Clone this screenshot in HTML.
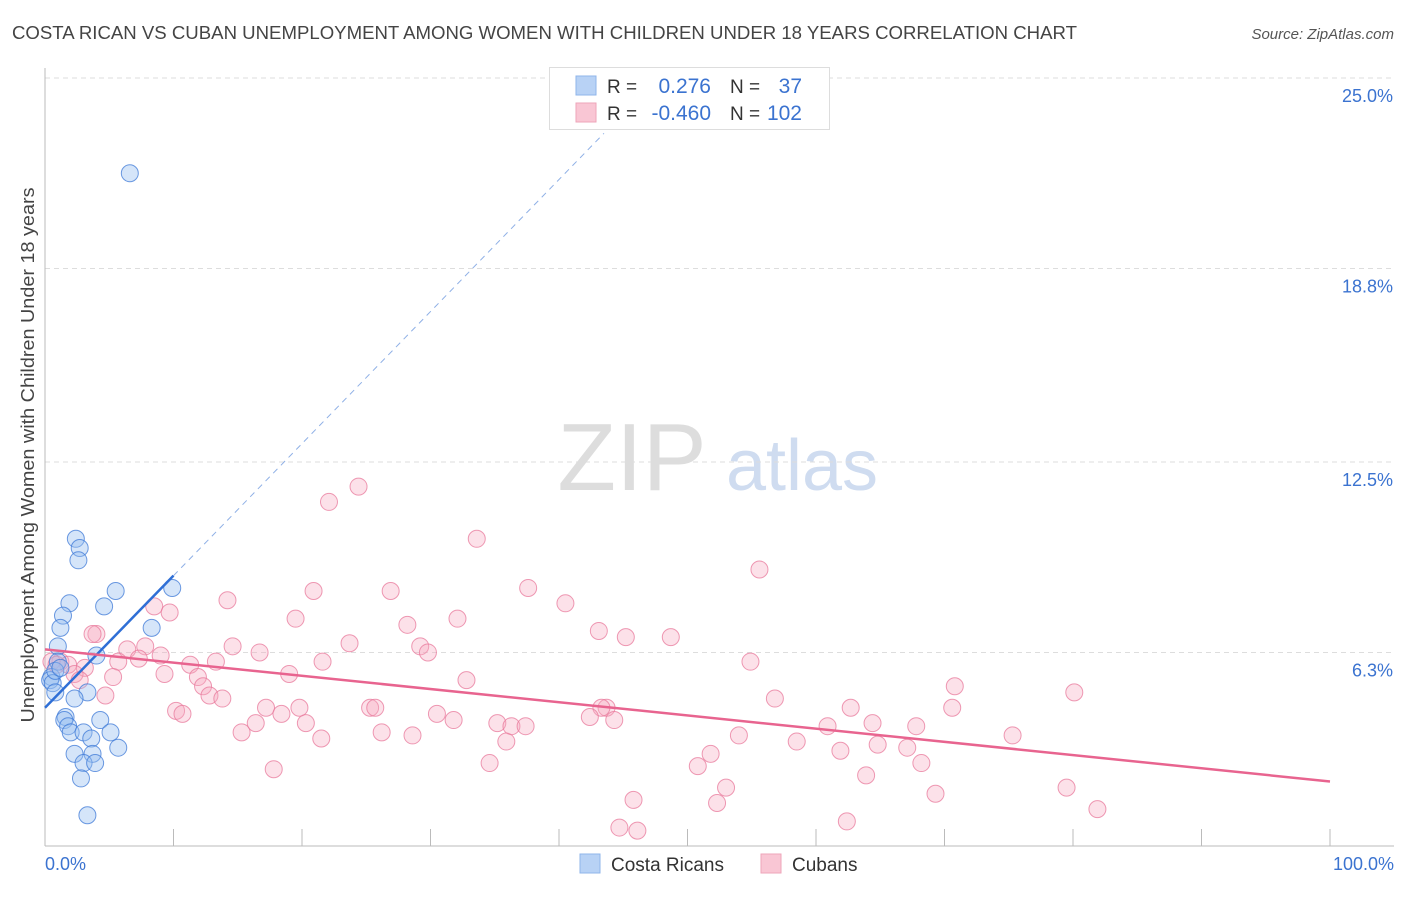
<!DOCTYPE html>
<html><head><meta charset="utf-8"><style>
body{margin:0;background:#fff;font-family:"Liberation Sans",sans-serif;}
svg text{font-family:"Liberation Sans",sans-serif;}
</style></head><body>
<svg id="chart" width="1406" height="892" viewBox="0 0 1406 892" xmlns="http://www.w3.org/2000/svg">
<text x="12" y="39" font-size="18" fill="#444" textLength="1065" lengthAdjust="spacingAndGlyphs">COSTA RICAN VS CUBAN UNEMPLOYMENT AMONG WOMEN WITH CHILDREN UNDER 18 YEARS CORRELATION CHART</text>
<text x="1394" y="39" font-size="15" fill="#555" font-style="italic" text-anchor="end">Source: ZipAtlas.com</text>
<text transform="translate(34,455) rotate(-90)" font-size="18" fill="#444" text-anchor="middle" textLength="535" lengthAdjust="spacingAndGlyphs">Unemployment Among Women with Children Under 18 years</text>
<g>
<text x="632" y="490" font-size="96" fill="#ddd" font-family="Liberation Serif" text-anchor="middle">ZIP</text>
<text x="802" y="490" font-size="72" fill="#cfdcf0" text-anchor="middle">atlas</text>
</g>
<g id="grid"></g><g id="axes"></g><g id="pts"></g><g id="lines"></g>
<g>
<rect x="549.5" y="67.5" width="280" height="62" fill="#fff" stroke="#ddd"/>
<rect x="576" y="76" width="20" height="19" fill="#b8d2f5" stroke="#8fb5ea"/>
<rect x="576" y="103" width="20" height="19" fill="#f9c6d4" stroke="#eea5ba"/>
<text x="607" y="93" font-size="19" fill="#333">R =</text>
<text x="711" y="93" font-size="21" fill="#3b73d0" text-anchor="end">0.276</text>
<text x="730" y="93" font-size="19" fill="#333">N =</text>
<text x="802" y="93" font-size="21" fill="#3b73d0" text-anchor="end">37</text>
<text x="607" y="120" font-size="19" fill="#333">R =</text>
<text x="711" y="120" font-size="21" fill="#3b73d0" text-anchor="end">-0.460</text>
<text x="730" y="120" font-size="19" fill="#333">N =</text>
<text x="802" y="120" font-size="21" fill="#3b73d0" text-anchor="end">102</text>
</g>
<g>
<rect x="580" y="854" width="20" height="19" fill="#b8d2f5" stroke="#8fb5ea"/>
<text x="611" y="871" font-size="19" fill="#333">Costa Ricans</text>
<rect x="761" y="854" width="20" height="19" fill="#f9c6d4" stroke="#eea5ba"/>
<text x="792" y="871" font-size="19" fill="#333">Cubans</text>
</g>
</svg>
<script>
const yTicks=[6.3,12.5,18.8,25.0];
const yTickLabels=["6.3%","12.5%","18.8%","25.0%"];
const xTickLabels=["0.0%","100.0%"];
const blueX=[6.6,2.4,2.7,2.6,5.5,9.9,1.9,4.6,1.4,1.2,8.3,1.0,4.0,1.0,0.5,0.4,0.6,0.8,3.3,2.3,1.6,1.5,4.3,1.8,2.0,3.0,5.1,3.6,5.7,2.3,3.7,3.0,3.9,2.8,3.3,0.8,1.2];
const blueY=[21.9,10.0,9.7,9.3,8.3,8.4,7.9,7.8,7.5,7.1,7.1,6.5,6.2,6.0,5.5,5.4,5.3,5.0,5.0,4.8,4.2,4.1,4.1,3.9,3.7,3.7,3.7,3.5,3.2,3.0,3.0,2.7,2.7,2.2,1.0,5.7,5.8];
const pinkX=[24.4,22.1,33.6,55.6,37.6,26.9,20.9,14.2,40.5,8.5,9.7,19.5,32.1,28.2,43.1,4.0,3.7,45.2,48.7,23.7,29.2,14.6,29.8,16.7,6.4,7.8,9.0,7.3,5.7,13.3,54.9,21.6,11.3,1.2,1.8,3.1,2.3,9.3,19.0,2.7,5.3,11.9,32.8,12.3,70.8,80.1,4.7,12.8,13.8,56.8,17.2,19.8,25.3,25.7,43.7,43.3,62.7,70.6,10.2,10.7,18.4,30.5,31.8,20.3,35.2,36.3,37.4,42.4,44.3,60.9,64.4,67.8,15.3,16.4,26.2,28.6,21.5,35.9,54.0,58.5,75.3,64.8,61.9,67.1,51.8,68.2,50.8,34.6,17.8,63.9,53.0,69.3,79.5,45.8,52.3,81.9,62.4,44.7,46.1,0.5,0.9];
const pinkY=[11.7,11.2,10.0,9.0,8.4,8.3,8.3,8.0,7.9,7.8,7.6,7.4,7.4,7.2,7.0,6.9,6.9,6.8,6.8,6.6,6.5,6.5,6.3,6.3,6.4,6.5,6.2,6.1,6.0,6.0,6.0,6.0,5.9,6.0,5.9,5.8,5.6,5.6,5.6,5.4,5.5,5.5,5.4,5.2,5.2,5.0,4.9,4.9,4.8,4.8,4.5,4.5,4.5,4.5,4.5,4.5,4.5,4.5,4.4,4.3,4.3,4.3,4.1,4.0,4.0,3.9,3.9,4.2,4.1,3.9,4.0,3.9,3.7,4.0,3.7,3.6,3.5,3.4,3.6,3.4,3.6,3.3,3.1,3.2,3.0,2.7,2.6,2.7,2.5,2.3,1.9,1.7,1.9,1.5,1.4,1.2,0.8,0.6,0.5,6.0,5.9];
const blueTrend=[0,4.5,10,8.8];
const blueDash=[10,8.8,43.5,23.2];
const pinkTrend=[0,6.4,100,2.1];
const X=v=>45+v*12.85, Y=v=>846-v*30.72;
const NS="http://www.w3.org/2000/svg";
function mk(t,a,p){const e=document.createElementNS(NS,t);for(const k in a)e.setAttribute(k,a[k]);p.appendChild(e);return e;}
const grid=document.getElementById('grid'),axes=document.getElementById('axes'),pts=document.getElementById('pts'),lines=document.getElementById('lines');
yTicks.forEach((t,i)=>{
 const l=mk('line',{x1:45,x2:1394,y1:Y(t),y2:Y(t),stroke:'#ddd','stroke-dasharray':'5,4'},grid);
 
 
 const tx=mk('text',{x:1393,y:Y(t)+24,'font-size':18,fill:'#3b73d0','text-anchor':'end'},axes);tx.textContent=yTickLabels[i];
 
 
});
const yax=mk('line',{x1:45,x2:45,y1:68,y2:846,stroke:'#bbb'},axes);


const xax=mk('line',{x1:45,x2:1394,y1:846,y2:846,stroke:'#bbb'},axes);


for(let i=1;i<=10;i++){const tk=mk('line',{x1:X(i*10),x2:X(i*10),y1:829,y2:846,stroke:'#bbb'},axes);
 
 }
[[0,'start',45],[1,'end',1394]].forEach(([i,a,x])=>{const t=mk('text',{x:x,y:870,'font-size':18,fill:'#3b73d0','text-anchor':a},axes);t.textContent=xTickLabels[i];
 
 });
pinkX.forEach((v,i)=>{const c=mk('circle',{cx:X(v),cy:Y(pinkY[i]),r:8.5,fill:'rgba(246,170,192,0.35)',stroke:'rgba(232,120,155,0.75)','stroke-width':1},pts);
 
 });
blueX.forEach((v,i)=>{const c=mk('circle',{cx:X(v),cy:Y(blueY[i]),r:8.5,fill:'rgba(150,190,240,0.4)',stroke:'rgba(60,120,215,0.75)','stroke-width':1},pts);
 
 });
const bl=mk('line',{x1:X(blueTrend[0]),y1:Y(blueTrend[1]),x2:X(blueTrend[2]),y2:Y(blueTrend[3]),stroke:'#2f6fd6','stroke-width':2.5},lines);


const bd=mk('line',{x1:X(blueDash[0]),y1:Y(blueDash[1]),x2:X(blueDash[2]),y2:Y(blueDash[3]),stroke:'#8fb0e6','stroke-width':1,'stroke-dasharray':'6,5'},lines);


const pl=mk('line',{x1:X(pinkTrend[0]),y1:Y(pinkTrend[1]),x2:X(pinkTrend[2]),y2:Y(pinkTrend[3]),stroke:'#e8648f','stroke-width':2.5},lines);


</script>
</body></html>
